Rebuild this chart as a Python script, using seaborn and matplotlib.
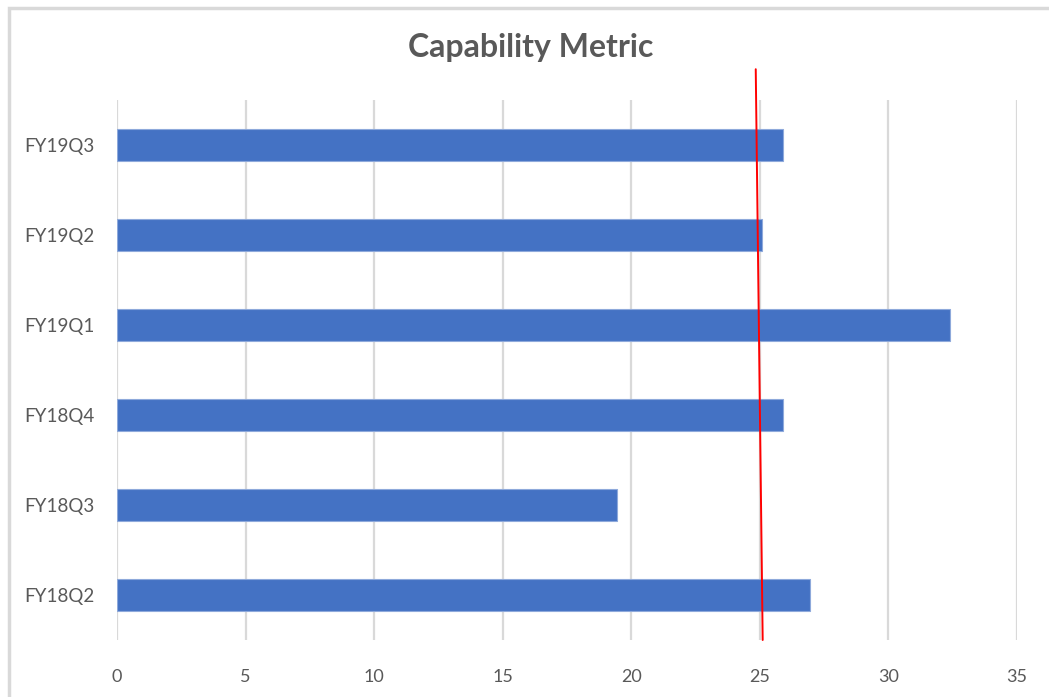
import matplotlib
matplotlib.use("Agg")
import matplotlib.pyplot as plt
import matplotlib.transforms as mtransforms
from matplotlib.patches import Rectangle
import seaborn as sns
import pandas as pd

# Quarterly capability scores, listed top to bottom as shown
quarters = ["FY19Q3", "FY19Q2", "FY19Q1", "FY18Q4", "FY18Q3", "FY18Q2"]
scores = [25.9, 25.1, 32.4, 25.9, 19.45, 26.95]

# Hand-drawn target line endpoints (x at top, x at bottom)
target_x = [24.84, 25.11]

x_ticks = [0, 5, 10, 15, 20, 25, 30, 35]

sns.set_theme(style="white")
plt.rcParams["font.family"] = ["Lato", "DejaVu Sans"]

df = pd.DataFrame({"quarter": quarters, "score": scores})

W, H = 1049, 697
fig = plt.figure(figsize=(W / 100, H / 100), dpi=100)
ax = fig.add_axes([117 / W, (H - 640) / H, 900 / W, 540 / H])

sns.barplot(data=df, x="score", y="quarter", order=quarters, orient="h",
            color="#4472C4", saturation=1, width=0.35,
            edgecolor="#8EA9DB", linewidth=0.8, ax=ax, zorder=3)

ax.set_xlim(0, 35)
ax.set_ylim(5.5, -0.5)
ax.set_xticks(x_ticks)
ax.set_xticklabels([str(t) for t in x_ticks])
ax.set_xlabel("")
ax.set_ylabel("")

ax.grid(axis="x", color="#D9D9D9", linewidth=1.6, zorder=0)
ax.grid(axis="y", visible=False)
ax.set_axisbelow(True)
for s in ax.spines.values():
    s.set_visible(False)

ax.tick_params(axis="x", length=0, pad=21, labelsize=13, labelcolor="#595959")
ax.tick_params(axis="y", length=0, pad=16, labelsize=13.5, labelcolor="#595959")

# Red target line, extending above the plot area
trans = mtransforms.blended_transform_factory(ax.transData, ax.transAxes)
ax.plot(target_x, [1.057, 0.0], transform=trans, color="#FF0000",
        linewidth=1.4, clip_on=False, zorder=5)

fig.text(531 / W, 1 - 48 / H, "Capability Metric", ha="center", va="center",
         fontsize=23, fontweight="bold", color="#595959")

# Chart frame
fig.patches.append(Rectangle((9 / W, -0.05), 1.2, 1 - 8 / H + 0.05,
                             transform=fig.transFigure, fill=False,
                             edgecolor="#D9D9D9", linewidth=2.5))

fig.savefig("out.png", dpi=100, facecolor="white")
